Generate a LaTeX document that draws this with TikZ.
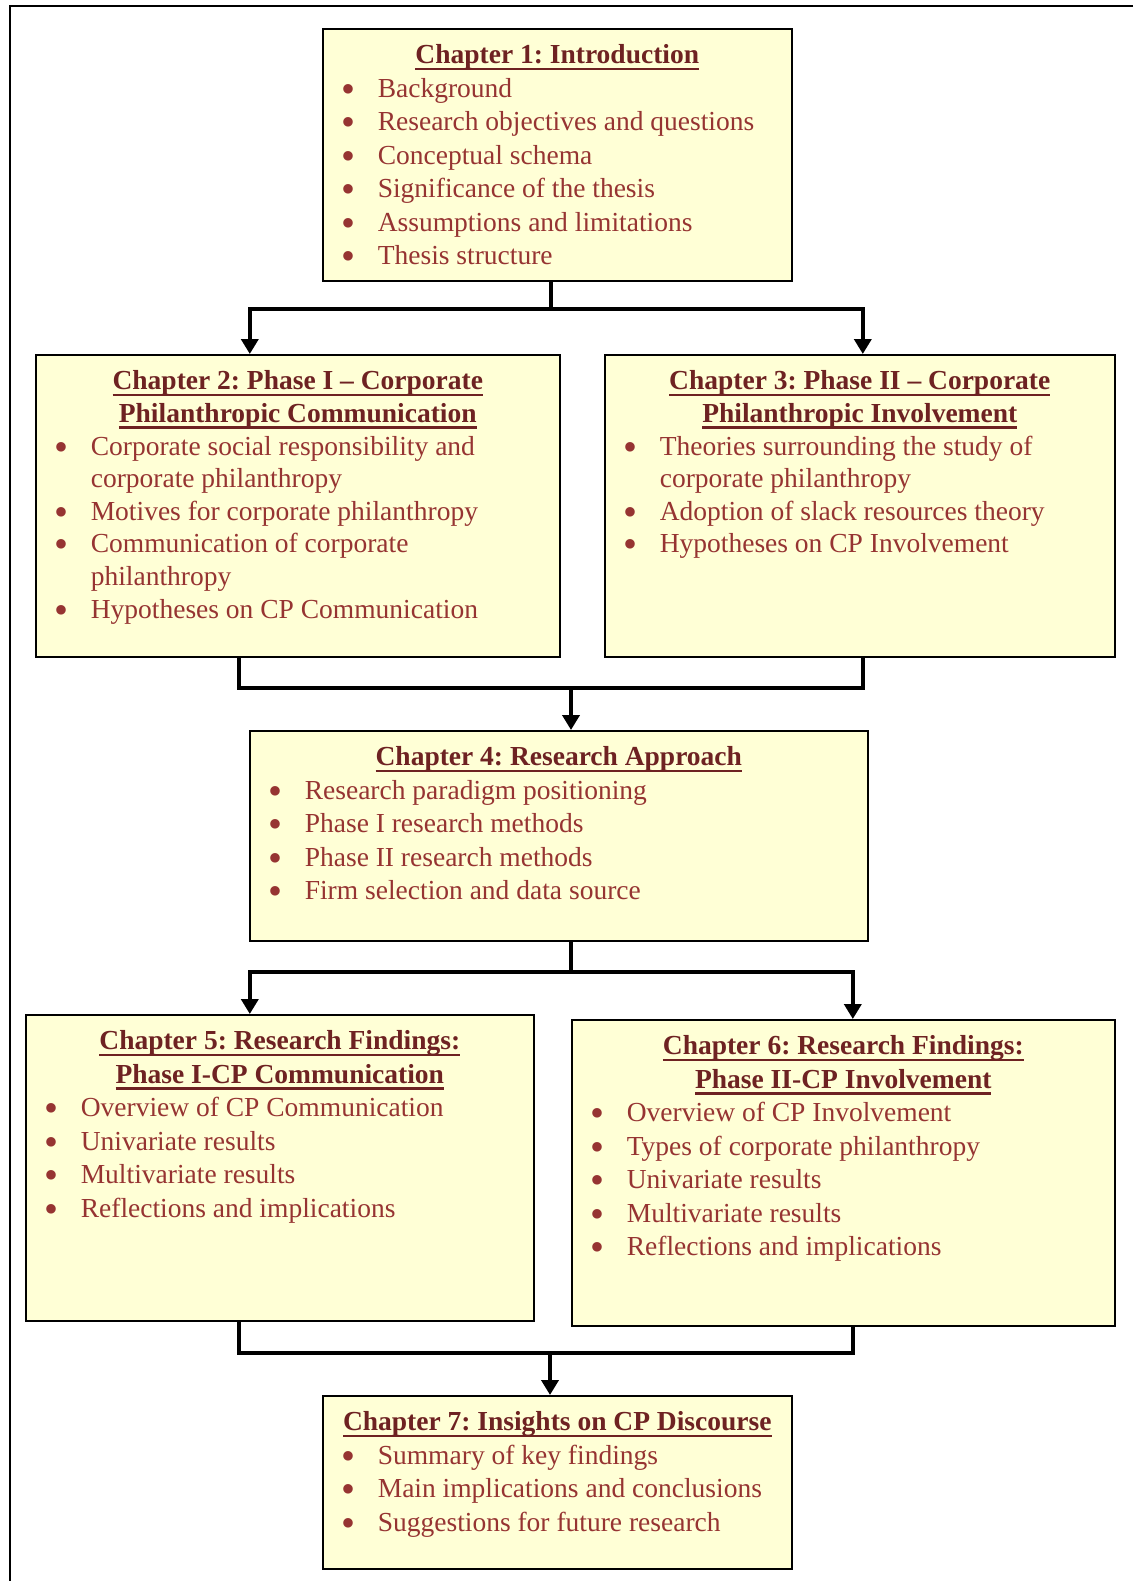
\documentclass[tikz,border=0pt]{standalone}
\usepackage{fontspec}
\setmainfont{Liberation Serif}
\usetikzlibrary{arrows.meta}

\definecolor{boxfill}{RGB}{255,255,214}
\definecolor{titlered}{RGB}{110,34,34}
\definecolor{textred}{RGB}{150,52,50}

% underlined chapter heading
\newcommand\chapul[1]{\leavevmode\setbox0=\hbox{#1}\rlap{\rule[-6.5pt]{\wd0}{2.5pt}}\box0}
\newcommand\chaptitle[1]{{\centering\color{titlered}\bfseries\rule{0pt}{35pt}#1\par}}
\newcommand\bitem[1]{\par\hangindent=55pt\hangafter=1\noindent\makebox[55pt][l]{\hspace{19pt}\raisebox{-5pt}[0pt][0pt]{\scalebox{1.45}{\textbullet}}}#1\par}
\newcommand\boxtext[4][33.5pt]{\begin{minipage}[t][#3][t]{#2}\fontsize{27.5pt}{#1}\selectfont\frenchspacing\color{textred}#4\end{minipage}}

\tikzset{
  chapbox/.style={draw, line width=1.6pt, fill=boxfill, inner sep=0pt, anchor=north west},
  link/.style={line width=4.5pt},
  flow/.style={link, -{Triangle[width=17pt,length=15pt]}}
}

\begin{document}
\begin{tikzpicture}[x=1pt,y=-1pt]
\useasboundingbox (0,0) rectangle (1133,1581);
\draw[line width=2pt] (1133,6) -- (10,6) -- (10,1581);

% chapters
\node[chapbox] (ch1) at (322,28) {\boxtext{469pt}{252pt}{%
  \chaptitle{\chapul{Chapter 1: Introduction}}
  \bitem{Background}
  \bitem{Research objectives and questions}
  \bitem{Conceptual schema}
  \bitem{Significance of the thesis}
  \bitem{Assumptions and limitations}
  \bitem{Thesis structure}}};
\node[chapbox] (ch2) at (35,354) {\boxtext[32.6pt]{524pt}{302pt}{%
  \chaptitle{\chapul{Chapter 2: Phase I – Corporate}\\\chapul{Philanthropic Communication}}
  \bitem{Corporate social responsibility and\newline corporate philanthropy}
  \bitem{Motives for corporate philanthropy}
  \bitem{Communication of corporate\newline philanthropy}
  \bitem{Hypotheses on CP Communication}}};
\node[chapbox] (ch3) at (604,354) {\boxtext[32.6pt]{510pt}{302pt}{%
  \chaptitle{\chapul{Chapter 3: Phase II – Corporate}\\\chapul{Philanthropic Involvement}}
  \bitem{Theories surrounding the study of\newline corporate philanthropy}
  \bitem{Adoption of slack resources theory}
  \bitem{Hypotheses on CP Involvement}}};
\node[chapbox] (ch4) at (249,730) {\boxtext{618pt}{210pt}{%
  \chaptitle{\chapul{Chapter 4: Research Approach}}
  \bitem{Research paradigm positioning}
  \bitem{Phase I research methods}
  \bitem{Phase II research methods}
  \bitem{Firm selection and data source}}};
\node[chapbox] (ch5) at (25,1014) {\boxtext{508pt}{306pt}{%
  \chaptitle{\chapul{Chapter 5: Research Findings:}\\\chapul{Phase I-CP Communication}}
  \bitem{Overview of CP Communication}
  \bitem{Univariate results}
  \bitem{Multivariate results}
  \bitem{Reflections and implications}}};
\node[chapbox] (ch6) at (571,1019) {\boxtext{543pt}{306pt}{%
  \chaptitle{\chapul{Chapter 6: Research Findings:}\\\chapul{Phase II-CP Involvement}}
  \bitem{Overview of CP Involvement}
  \bitem{Types of corporate philanthropy}
  \bitem{Univariate results}
  \bitem{Multivariate results}
  \bitem{Reflections and implications}}};
\node[chapbox] (ch7) at (322,1395) {\boxtext{469pt}{173pt}{%
  \chaptitle{\chapul{Chapter 7: Insights on CP Discourse}}
  \bitem{Summary of key findings}
  \bitem{Main implications and conclusions}
  \bitem{Suggestions for future research}}};

% connectors
\coordinate (j1) at (551,309);
\draw[link] (ch1.south -| j1) -- (j1);
\draw[flow] (j1) -| ([xshift=-48pt]ch2.north);
\draw[flow] (j1) -| ([xshift=3pt]ch3.north);

\coordinate (j2) at (571,688);
\draw[link] ([xshift=-59pt]ch2.south) |- (j2) -| ([xshift=3pt]ch3.south);
\draw[flow] (j2) -- (ch4.north -| j2);

\coordinate (j3) at (571,972);
\draw[link] (ch4.south -| j3) -- (j3);
\draw[flow] (j3) -| ([xshift=-30pt]ch5.north);
\draw[flow] (j3) -| ([xshift=9.5pt]ch6.north);

\coordinate (j4) at (550,1353);
\draw[link] ([xshift=-41pt]ch5.south) |- (j4) -| ([xshift=9.5pt]ch6.south);
\draw[flow] (j4) -- (ch7.north -| j4);
\end{tikzpicture}
\end{document}
